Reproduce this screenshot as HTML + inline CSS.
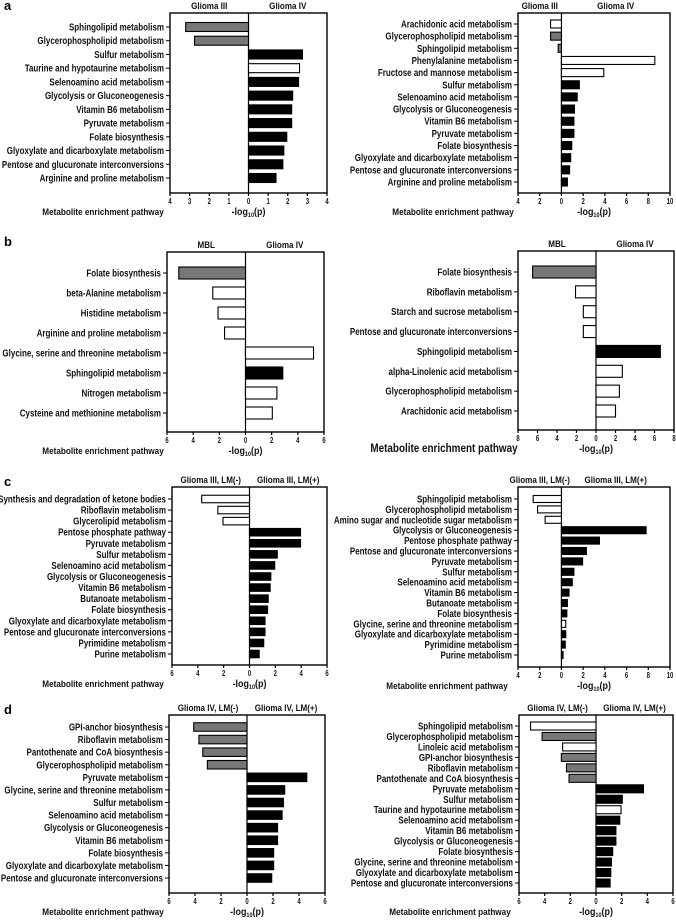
<!DOCTYPE html>
<html><head><meta charset="utf-8">
<style>
html,body{margin:0;padding:0;background:#fff;}
svg{display:block;font-family:"Liberation Sans",Arial,sans-serif;font-weight:bold;}
</style></head>
<body>
<svg id="fig" width="676" height="921" viewBox="0 0 676 921" xmlns="http://www.w3.org/2000/svg"></svg>
<script>
// ---- Panel a left ----
const aLLabels = ["Sphingolipid metabolism","Glycerophospholipid metabolism","Sulfur metabolism","Taurine and hypotaurine metabolism","Selenoamino acid metabolism","Glycolysis or Gluconeogenesis","Vitamin B6 metabolism","Pyruvate metabolism","Folate biosynthesis","Glyoxylate and dicarboxylate metabolism","Pentose and glucuronate interconversions","Arginine and proline metabolism"];
const aLValues = [-3.2,-2.75,2.75,2.6,2.55,2.25,2.2,2.2,1.95,1.8,1.75,1.4];
const aLFills = ["g","g","k","w","k","k","k","k","k","k","k","k"];
const aLTicks = [4,3,2,1,0,1,2,3,4];
// ---- Panel a right ----
const aRLabels = ["Arachidonic acid metabolism","Glycerophospholipid metabolism","Sphingolipid metabolism","Phenylalanine metabolism","Fructose and mannose metabolism","Sulfur metabolism","Selenoamino acid metabolism","Glycolysis or Gluconeogenesis","Vitamin B6 metabolism","Pyruvate metabolism","Folate biosynthesis","Glyoxylate and dicarboxylate metabolism","Pentose and glucuronate interconversions","Arginine and proline metabolism"];
const aRValues = [-1,-1,-0.3,8.6,3.9,1.65,1.45,1.2,1.15,1.15,0.95,0.85,0.75,0.55];
const aRFills = ["w","g","g","w","w","k","k","k","k","k","k","k","k","k"];
const aRTicks = [4,2,0,2,4,6,8,10];
// ---- Panel b left ----
const bLLabels = ["Folate biosynthesis","beta-Alanine metabolism","Histidine metabolism","Arginine and proline metabolism","Glycine, serine and threonine metabolism","Sphingolipid metabolism","Nitrogen metabolism","Cysteine and methionine metabolism"];
const bLValues = [-5.1,-2.5,-2.1,-1.6,5.2,2.85,2.4,2.05];
const bLFills = ["g","w","w","w","w","k","w","w"];
const bLTicks = [6,4,2,0,2,4,6];
// ---- Panel b right ----
const bRLabels = ["Folate biosynthesis","Riboflavin metabolism","Starch and sucrose metabolism","Pentose and glucuronate interconversions","Sphingolipid metabolism","alpha-Linolenic acid metabolism","Glycerophospholipid metabolism","Arachidonic acid metabolism"];
const bRValues = [-6.5,-2.1,-1.3,-1.3,6.6,2.7,2.4,2.0];
const bRFills = ["g","w","w","w","k","w","w","w"];
const bRTicks = [8,6,4,2,0,2,4,6,8];
// ---- Panel c left ----
const cLLabels = ["Synthesis and degradation of ketone bodies","Riboflavin metabolism","Glycerolipid metabolism","Pentose phosphate pathway","Pyruvate metabolism","Sulfur metabolism","Selenoamino acid metabolism","Glycolysis or Gluconeogenesis","Vitamin B6 metabolism","Butanoate metabolism","Folate biosynthesis","Glyoxylate and dicarboxylate metabolism","Pentose and glucuronate interconversions","Pyrimidine metabolism","Purine metabolism"];
const cLValues = [-3.7,-2.45,-2.05,3.95,3.95,2.15,1.95,1.65,1.6,1.45,1.4,1.2,1.2,1.1,0.75];
const cLFills = ["w","w","w","k","k","k","k","k","k","k","k","k","k","k","k"];
const cLTicks = [6,4,2,0,2,4,6];
// ---- Panel c right ----
const cRLabels = ["Sphingolipid metabolism","Glycerophospholipid metabolism","Amino sugar and nucleotide sugar metabolism","Glycolysis or Gluconeogenesis","Pentose phosphate pathway","Pentose and glucuronate interconversions","Pyruvate metabolism","Sulfur metabolism","Selenoamino acid metabolism","Vitamin B6 metabolism","Butanoate metabolism","Folate biosynthesis","Glycine, serine and threonine metabolism","Glyoxylate and dicarboxylate metabolism","Pyrimidine metabolism","Purine metabolism"];
const cRValues = [-2.6,-2.2,-1.5,7.8,3.5,2.3,1.95,1.15,1.0,0.7,0.55,0.5,0.4,0.4,0.35,0.15];
const cRFills = ["w","w","w","k","k","k","k","k","k","k","k","k","w","k","k","k"];
const cRTicks = [4,2,0,2,4,6,8,10];
// ---- Panel d left ----
const dLLabels = ["GPI-anchor biosynthesis","Riboflavin metabolism","Pantothenate and CoA biosynthesis","Glycerophospholipid metabolism","Pyruvate metabolism","Glycine, serine and threonine metabolism","Sulfur metabolism","Selenoamino acid metabolism","Glycolysis or Gluconeogenesis","Vitamin B6 metabolism","Folate biosynthesis","Glyoxylate and dicarboxylate metabolism","Pentose and glucuronate interconversions"];
const dLValues = [-4.1,-3.7,-3.4,-3.05,4.6,2.9,2.8,2.7,2.35,2.35,2.05,2.05,1.9];
const dLFills = ["g","g","g","g","k","k","k","k","k","k","k","k","k"];
const dLTicks = [6,4,2,0,2,4,6];
// ---- Panel d right ----
const dRLabels = ["Sphingolipid metabolism","Glycerophospholipid metabolism","Linoleic acid metabolism","GPI-anchor biosynthesis","Riboflavin metabolism","Pantothenate and CoA biosynthesis","Pyruvate metabolism","Sulfur metabolism","Taurine and hypotaurine metabolism","Selenoamino acid metabolism","Vitamin B6 metabolism","Glycolysis or Gluconeogenesis","Folate biosynthesis","Glycine, serine and threonine metabolism","Glyoxylate and dicarboxylate metabolism","Pentose and glucuronate interconversions"];
const dRValues = [-5.1,-4.2,-2.6,-2.7,-2.3,-2.1,3.7,2.05,1.95,1.85,1.55,1.55,1.3,1.2,1.15,1.1];
const dRFills = ["w","g","w","g","g","g","k","k","w","k","k","k","k","k","k","k"];
const dRTicks = [6,4,2,0,2,4,6];

const NS="http://www.w3.org/2000/svg";
const svg=document.getElementById('fig');
const FILL={k:"#000",g:"#777",w:"#fff"};
function el(tag,attrs,parent){const e=document.createElementNS(NS,tag);for(const k in attrs)e.setAttribute(k,attrs[k]);(parent||svg).appendChild(e);return e;}
function txt(s,x,y,size,anchor,sx,parent){
  const g=el('g',{transform:`translate(${x},${y}) scale(${sx},1)`},parent);
  const t=el('text',{x:0,y:0,'font-size':size,'text-anchor':anchor,fill:'#111'},g);
  t.textContent=s;return t;}

function panel(id,cfg,labels,values,fills,ticks){
  const g=el('g',{});
  
  
  const {x0,x1,y0,y1,min,max,r0,r1,bh,h1,h2,lx,lsize}=cfg;
  const xs=v=>x0+(v-min)/(max-min)*(x1-x0);
  const zero=xs(0);
  const n=labels.length;
  const ys=i=>n>1? r0+i*(r1-r0)/(n-1):r0;
  const frame=el('rect',{x:x0,y:y0,width:x1-x0,height:y1-y0,fill:'none',stroke:'#000','stroke-width':1.4},g);
  
  
  el('line',{x1:zero,y1:y0,x2:zero,y2:y1,stroke:'#000','stroke-width':1.2},g);
  const hl=txt(h1,(x0+zero)/2,y0-4,9.5,'middle',0.85,g);
  
  
  const hr=txt(h2,(zero+x1)/2,y0-4,9.5,'middle',0.85,g);
  
  
  labels.forEach((lab,i)=>{
    const y=ys(i), v=values[i];
    const bx=Math.min(xs(v),zero), bw=Math.abs(xs(v)-zero);
    const r=el('rect',{x:bx,y:y-bh/2,width:bw,height:bh,fill:FILL[fills[i]],stroke:'#000','stroke-width':1.1},g);
    
    
    el('line',{x1:x0-4,y1:y,x2:x0,y2:y,stroke:'#000','stroke-width':1},g);
    const t=txt(lab,x0-6,y+3.5,10,'end',0.8,g);
    
    
  });
  ticks.forEach((tv,i)=>{
    const x=x0+i*(x1-x0)/(ticks.length-1);
    el('line',{x1:x,y1:y1,x2:x,y2:y1+3,stroke:'#000','stroke-width':1.2},g);
    const t=txt(String(tv),x,y1+11,8.5,'middle',0.7,g);
    
    
  });
  const tg=el('g',{transform:`translate(${(x0+x1)/2},${y1+22})`},g);
  
  
  const at=el('text',{x:0,y:0,'font-size':10.5,'text-anchor':'middle',fill:'#111',transform:'scale(0.85,1)'},tg);
  at.innerHTML='-log<tspan font-size="6.5" dy="2">10</tspan><tspan dy="-2">(p)</tspan>';
  const yt=txt('Metabolite enrichment pathway',lx,y1+22,lsize,'middle',0.86,g);
  
  
}
panel('a-left',{x0:170,x1:327,y0:13,y1:193,min:-4,max:4,r0:27,r1:178,bh:9,h1:'Glioma III',h2:'Glioma IV',lx:103,lsize:9.5},aLLabels,aLValues,aLFills,aLTicks);
panel('a-right',{x0:518,x1:670,y0:13,y1:193,min:-4,max:10,r0:24,r1:182,bh:8,h1:'Glioma III',h2:'Glioma IV',lx:453,lsize:9.5},aRLabels,aRValues,aRFills,aRTicks);
panel('b-left',{x0:167,x1:324,y0:252,y1:432,min:-6,max:6,r0:273,r1:413,bh:12,h1:'MBL',h2:'Glioma IV',lx:103,lsize:9.5},bLLabels,bLValues,bLFills,bLTicks);
panel('b-right',{x0:518,x1:674,y0:251,y1:430,min:-8,max:8,r0:272,r1:411,bh:12,h1:'MBL',h2:'Glioma IV',lx:444,lsize:11.5},bRLabels,bRValues,bRFills,bRTicks);
panel('c-left',{x0:172,x1:327,y0:487,y1:665,min:-6,max:6,r0:499,r1:654,bh:7.5,h1:'Glioma III, LM(-)',h2:'Glioma III, LM(+)',lx:103,lsize:9.5},cLLabels,cLValues,cLFills,cLTicks);
panel('c-right',{x0:518,x1:670,y0:487,y1:667,min:-4,max:10,r0:499,r1:655,bh:7,h1:'Glioma III, LM(-)',h2:'Glioma III, LM(+)',lx:447,lsize:9.5},cRLabels,cRValues,cRFills,cRTicks);
panel('d-left',{x0:169,x1:325,y0:715,y1:893,min:-6,max:6,r0:727,r1:878,bh:8.5,h1:'Glioma IV, LM(-)',h2:'Glioma IV, LM(+)',lx:103,lsize:9.5},dLLabels,dLValues,dLFills,dLTicks);
panel('d-right',{x0:519,x1:673,y0:715,y1:893,min:-6,max:6,r0:726,r1:883,bh:8,h1:'Glioma IV, LM(-)',h2:'Glioma IV, LM(+)',lx:450,lsize:9.5},dRLabels,dRValues,dRFills,dRTicks);

[['a',10],['b',246],['c',486],['d',714]].forEach(([s,y])=>{
  const t=el('text',{x:4,y:y,'font-size':13,fill:'#000'});
  t.textContent=s;
  
  
});
</script>
</body></html>
